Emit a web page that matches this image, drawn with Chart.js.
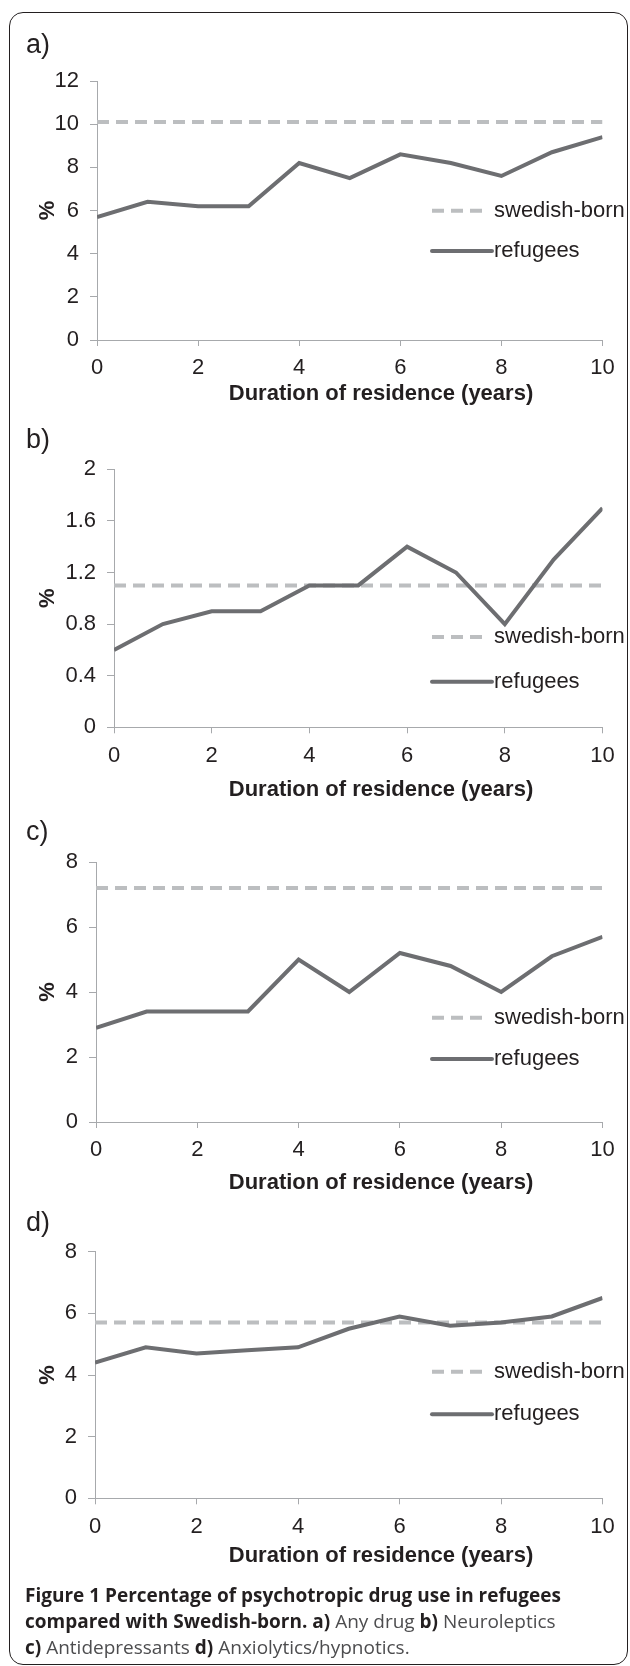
<!DOCTYPE html>
<html lang="en">
<head>
    <meta charset="UTF-8">
    <title>Psychotropic drug use in refugees vs Swedish-born</title>
    <script src="https://cdn.jsdelivr.net/npm/chart.js@4.4.1/dist/chart.umd.min.js"></script>
    <style>
        body {
            margin: 0;
            background: #fff;
        }
        #page {
            position: relative;
            width: 630px;
            height: 1666px;
            overflow: hidden;
        }
        .frame {
            position: absolute;
            left: 9px;
            top: 12px;
            width: 619px;
            height: 1653px;
            box-sizing: border-box;
            border: 1.5px solid #231f20;
            border-radius: 14px;
        }
        canvas {
            position: absolute;
            left: 0;
        }
        .caption {
            position: absolute;
            left: 25px;
            top: 1582px;
            width: 600px;
            font-family: "Open Sans", sans-serif;
            font-size: 19px;
            line-height: 26px;
            color: #4d4d4f;
            white-space: nowrap;
        }
        .caption b {
            color: #231f20;
            font-weight: 700;
        }
    </style>
</head>
<body>
<div id="page">
    <div class="frame"></div>
    <canvas id="chartA"></canvas>
    <canvas id="chartB"></canvas>
    <canvas id="chartC"></canvas>
    <canvas id="chartD"></canvas>
    <div class="caption">
        <b>Figure 1 Percentage of psychotropic drug use in refugees</b><br>
        <b>compared with Swedish-born. a)</b> Any drug <b>b)</b> Neuroleptics<br>
        <b>c)</b> Antidepressants <b>d)</b> Anxiolytics/hypnotics.
    </div>
</div>

<script>
    // data
    const years = [0, 1, 2, 3, 4, 5, 6, 7, 8, 9, 10];
    const xTickLabels = ['0', '2', '4', '6', '8', '10'];
    const seriesNames = ['swedish-born', 'refugees'];
    const xTitle = 'Duration of residence (years)';

    const refugeesA = [5.7, 6.4, 6.2, 6.2, 8.2, 7.5, 8.6, 8.2, 7.6, 8.7, 9.4];
    const swedishA = [10.1, 10.1, 10.1, 10.1, 10.1, 10.1, 10.1, 10.1, 10.1, 10.1, 10.1];
    const yTicksA = ['0', '2', '4', '6', '8', '10', '12'];

    const refugeesB = [0.6, 0.8, 0.9, 0.9, 1.1, 1.1, 1.4, 1.2, 0.8, 1.3, 1.7];
    const swedishB = [1.1, 1.1, 1.1, 1.1, 1.1, 1.1, 1.1, 1.1, 1.1, 1.1, 1.1];
    const yTicksB = ['0', '0.4', '0.8', '1.2', '1.6', '2'];

    const refugeesC = [2.9, 3.4, 3.4, 3.4, 5.0, 4.0, 5.2, 4.8, 4.0, 5.1, 5.7];
    const swedishC = [7.2, 7.2, 7.2, 7.2, 7.2, 7.2, 7.2, 7.2, 7.2, 7.2, 7.2];
    const yTicksC = ['0', '2', '4', '6', '8'];

    const refugeesD = [4.4, 4.9, 4.7, 4.8, 4.9, 5.5, 5.9, 5.6, 5.7, 5.9, 6.5];
    const swedishD = [5.7, 5.7, 5.7, 5.7, 5.7, 5.7, 5.7, 5.7, 5.7, 5.7, 5.7];
    const yTicksD = ['0', '2', '4', '6', '8'];

    // page layout of each panel (pixels on the 630 wide page)
    const panels = [
        { id: 'chartA', tag: 'a)', refugees: refugeesA, swedish: swedishA, yTicks: yTicksA, yMax: 12, yStep: 2,
          top: 23, bottom: 414, plotTop: 81, plotBottom: 340, plotLeft: 97, tagBase: 53, tickY: 368, titleY: 394, legendY: [210.7, 251] },
        { id: 'chartB', tag: 'b)', refugees: refugeesB, swedish: swedishB, yTicks: yTicksB, yMax: 2, yStep: 0.4,
          top: 418, bottom: 810, plotTop: 469.3, plotBottom: 727.3, plotLeft: 114, tagBase: 448, tickY: 756, titleY: 790, legendY: [637, 681.7] },
        { id: 'chartC', tag: 'c)', refugees: refugeesC, swedish: swedishC, yTicks: yTicksC, yMax: 8, yStep: 2,
          top: 810, bottom: 1203, plotTop: 862, plotBottom: 1122, plotLeft: 96, tagBase: 840, tickY: 1150, titleY: 1183, legendY: [1017.7, 1059] },
        { id: 'chartD', tag: 'd)', refugees: refugeesD, swedish: swedishD, yTicks: yTicksD, yMax: 8, yStep: 2,
          top: 1201, bottom: 1576, plotTop: 1251.7, plotBottom: 1498.3, plotLeft: 95, tagBase: 1231, tickY: 1527, titleY: 1556, legendY: [1371.7, 1414.3] }
    ];

    const PAGE_W = 630;
    const PLOT_RIGHT = 602.5;
    const TITLE_X = 381;
    const TEXT = '#231f20';
    const AXIS = '#a7a9ac';
    const REF_COLOR = '#6d6e71';
    const SWE_COLOR = '#bcbec0';
    const DASH = [12, 7];
    const FONT = '"Liberation Sans", Arial, sans-serif';
    const FS = 22;
    const LH = FS * 1.2;

    Chart.defaults.font.family = FONT;
    Chart.defaults.font.size = FS;
    Chart.defaults.color = TEXT;

    // panel letter, x axis title and the legend inside the plot
    const panelDecor = {
        id: 'panelDecor',
        afterDraw(chart, args, opts) {
            const ctx = chart.ctx;
            ctx.save();
            ctx.fillStyle = TEXT;
            ctx.font = '27px ' + FONT;
            ctx.textBaseline = 'alphabetic';
            ctx.textAlign = 'left';
            ctx.fillText(opts.tag, 26, opts.tagBase);

            ctx.font = 'bold ' + FS + 'px ' + FONT;
            ctx.textAlign = 'center';
            ctx.textBaseline = 'middle';
            ctx.fillText(xTitle, TITLE_X, opts.titleY);

            const x1 = 432, x2 = 492, tx = 494;
            ctx.font = FS + 'px ' + FONT;
            ctx.textAlign = 'left';
            ctx.lineWidth = 4;

            ctx.strokeStyle = SWE_COLOR;
            ctx.setLineDash(DASH);
            ctx.beginPath();
            ctx.moveTo(x1, opts.rows[0]);
            ctx.lineTo(x1 + 50, opts.rows[0]);
            ctx.stroke();
            ctx.fillText(seriesNames[0], tx, opts.rows[0]);

            ctx.strokeStyle = REF_COLOR;
            ctx.setLineDash([]);
            ctx.lineCap = 'round';
            ctx.beginPath();
            ctx.moveTo(x1, opts.rows[1]);
            ctx.lineTo(x2, opts.rows[1]);
            ctx.stroke();
            ctx.fillText(seriesNames[1], tx, opts.rows[1]);
            ctx.restore();
        }
    };

    panels.forEach(p => {
        const canvas = document.getElementById(p.id);
        const h = p.bottom - p.top;
        canvas.width = PAGE_W;
        canvas.height = h;
        canvas.style.top = p.top + 'px';
        canvas.style.width = PAGE_W + 'px';
        canvas.style.height = h + 'px';

        const xHeight = p.bottom - p.plotBottom;
        const tickLen = 6;

        new Chart(canvas.getContext('2d'), {
            type: 'line',
            data: {
                datasets: [
                    {
                        label: seriesNames[0],
                        data: years.map((yr, i) => ({ x: yr, y: p.swedish[i] })),
                        borderColor: SWE_COLOR,
                        borderWidth: 4,
                        borderDash: DASH,
                        pointRadius: 0,
                        order: 1
                    },
                    {
                        label: seriesNames[1],
                        data: years.map((yr, i) => ({ x: yr, y: p.refugees[i] })),
                        borderColor: REF_COLOR,
                        borderWidth: 4,
                        pointRadius: 0,
                        tension: 0,
                        order: 0
                    }
                ]
            },
            options: {
                responsive: false,
                animation: false,
                devicePixelRatio: 1,
                layout: {
                    padding: { top: p.plotTop - p.top, right: PAGE_W - PLOT_RIGHT, bottom: 0, left: 0 }
                },
                plugins: {
                    legend: { display: false },
                    tooltip: { enabled: false },
                    panelDecor: {
                        tag: p.tag,
                        tagBase: p.tagBase - p.top,
                        titleY: p.titleY - p.top,
                        rows: p.legendY.map(y => y - p.top)
                    }
                },
                scales: {
                    x: {
                        type: 'linear',
                        min: 0,
                        max: 10,
                        ticks: {
                            stepSize: 2,
                            padding: p.tickY - p.plotBottom - tickLen - LH / 2,
                            maxRotation: 0,
                            callback: (v, i) => xTickLabels[i]
                        },
                        grid: { drawOnChartArea: false, drawTicks: true, tickLength: tickLen, color: AXIS },
                        border: { display: true, color: AXIS, width: 1 },
                        title: { display: false },
                        afterFit: s => { s.height = xHeight; }
                    },
                    y: {
                        min: 0,
                        max: p.yMax,
                        ticks: {
                            stepSize: p.yStep,
                            padding: 11,
                            callback: (v, i) => p.yTicks[i]
                        },
                        grid: { drawOnChartArea: false, drawTicks: true, tickLength: 7, color: AXIS },
                        border: { display: true, color: AXIS, width: 1 },
                        title: {
                            display: true,
                            text: '%',
                            font: { size: FS, weight: 'bold' },
                            padding: { top: 48 - LH / 2, bottom: 0 }
                        },
                        afterFit: s => { s.width = p.plotLeft; }
                    }
                }
            },
            plugins: [panelDecor]
        });
    });
</script>
</body>
</html>
